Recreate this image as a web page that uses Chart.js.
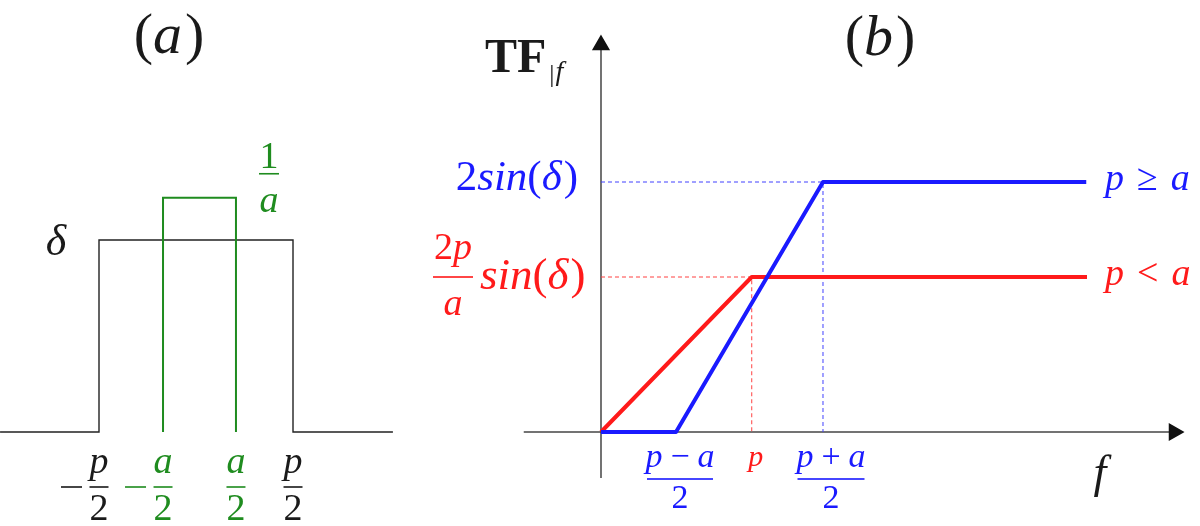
<!DOCTYPE html>
<html>
<head>
<meta charset="utf-8">
<script src="https://cdn.jsdelivr.net/npm/chart.js@4.4.1/dist/chart.umd.min.js"></script>
<style>
  body { margin: 0; background: #fff; width: 1200px; height: 526px; position: relative; overflow: hidden; }
  canvas { position: absolute; top: 0; }
  #chartA { left: 0; }
  #chartB { left: 400px; }
</style>
</head>
<body>
<canvas id="chartA" width="400" height="526"></canvas>
<canvas id="chartB" width="800" height="526"></canvas>
<script>
// ---- panel (a): slot (black) and pupil (green) rectangles
var slotX  = [-1.01, -0.5, -0.5, 0.5, 0.5, 1.015];
var slotY  = [0, 0, 1, 1, 0, 0];
var pupilX = [-0.17, -0.17, 0.206, 0.206];
var pupilY = [0, 1.22, 1.22, 0];

// ---- panel (b): transfer function vs f
var fBlue  = [0, 1, 2.96, 6.47];
var tfBlue = [0, 0, 1, 1];
var fRed   = [0, 2.01, 6.48];
var tfRed  = [0, 0.62, 0.62];
var axisF  = [-1.03, 7.64];
var axisTF = [-0.184, 1.548];

var BLACK = '#1a1a1a', GREEN = '#1f8c1f', BLUE = '#1a1aff', RED = '#ff1a1a';
var SERIF = '"Liberation Serif", "DejaVu Serif", serif';

function pts(xs, ys) { return xs.map(function (x, i) { return {x: x, y: ys[i]}; }); }

function setFont(ctx, r, size) {
  ctx.font = (r.i ? 'italic ' : '') + (r.b ? 'bold ' : '') + (r.s || size) + 'px ' + SERIF;
}
function runsWidth(ctx, runs, size) {
  var w = 0;
  runs.forEach(function (r) { setFont(ctx, r, size); w += ctx.measureText(r.t).width + (r.g || 0); });
  return w;
}
function drawRuns(ctx, runs, x, y, size, color, align) {
  var w = runsWidth(ctx, runs, size);
  var cx = align === 'right' ? x - w : (align === 'center' ? x - w / 2 : x);
  ctx.fillStyle = color; ctx.textAlign = 'left'; ctx.textBaseline = 'alphabetic';
  runs.forEach(function (r) {
    setFont(ctx, r, size);
    ctx.fillText(r.t, cx, y + (r.dy || 0));
    cx += ctx.measureText(r.t).width + (r.g || 0);
  });
}
function drawFrac(ctx, num, den, cx, barY, size, color, barW, up, down) {
  ctx.fillStyle = color;
  ctx.fillRect(cx - barW / 2, barY - 0.8, barW, 1.6);
  drawRuns(ctx, num, cx, barY - up, size, color, 'center');
  drawRuns(ctx, den, cx, barY + down, size, color, 'center');
}
function I(t, g) { return {t: t, i: true, g: g || 0}; }
function R(t, g) { return {t: t, g: g || 0}; }

var baseOpts = {
  responsive: false,
  animation: false,
  events: [],
  layout: { padding: 0, autoPadding: false },
  plugins: { legend: { display: false }, tooltip: { enabled: false } },
  elements: { point: { radius: 0 }, line: { tension: 0 } }
};

// labels for panel (a)
var textA = {
  id: 'textA',
  afterDraw: function (chart) {
    var ctx = chart.ctx, xs = chart.scales.x, ys = chart.scales.y;
    ctx.save();
    drawRuns(ctx, [R('('), I('a', 3), R(')')], 169, 53, 58, BLACK, 'center');
    drawRuns(ctx, [I('δ')], 56, ys.getPixelForValue(slotY[2]) + 15, 44, BLACK, 'center');
    drawFrac(ctx, [R('1')], [I('a')], 269, ys.getPixelForValue(pupilY[1]) - 24, 38, GREEN, 20, 6, 38);
    var ticks = [
      {v: slotX[1], n: 'p', c: BLACK, neg: true},
      {v: pupilX[0], n: 'a', c: GREEN, neg: true},
      {v: pupilX[2], n: 'a', c: GREEN},
      {v: slotX[3], n: 'p', c: BLACK}
    ];
    var barY = 487;
    ticks.forEach(function (t) {
      var cx = xs.getPixelForValue(t.v);
      drawFrac(ctx, [I(t.n)], [R('2')], cx, barY, 38, t.c, 19, 14, 33);
      if (t.neg) { ctx.fillStyle = t.c; ctx.fillRect(cx - 38, barY - 0.8, 21, 1.6); }
    });
    ctx.restore();
  }
};

new Chart(document.getElementById('chartA'), {
  type: 'scatter',
  data: {
    datasets: [
      { data: pts(pupilX, pupilY), showLine: true, borderColor: GREEN, borderWidth: 2 },
      { data: pts(slotX, slotY), showLine: true, borderColor: '#222', borderWidth: 1.4 }
    ]
  },
  options: Object.assign({}, baseOpts, {
    scales: {
      x: { type: 'linear', display: false, min: -1.0103, max: 1.0515 },
      y: { type: 'linear', display: false, min: -0.4896, max: 2.25 }
    }
  }),
  plugins: [textA]
});

// labels for panel (b)
var textB = {
  id: 'textB',
  afterDraw: function (chart) {
    var ctx = chart.ctx, xs = chart.scales.x, ys = chart.scales.y;
    ctx.save();
    drawRuns(ctx, [{t: 'TF', b: true, g: 3}, {t: '|', s: 26, dy: 10, g: 1}, {t: 'f', i: true, s: 28, dy: 8}],
      85, 72, 48, BLACK, 'left');
    drawRuns(ctx, [R('('), I('b', 3), R(')')], 480, 55, 58, BLACK, 'center');

    var yB = ys.getPixelForValue(tfBlue[2]), yR = ys.getPixelForValue(tfRed[1]);
    drawRuns(ctx, [R('2'), I('sin'), R('('), I('δ', 2), R(')')], 178, yB + 8, 43, BLUE, 'right');
    drawFrac(ctx, [R('2'), I('p')], [I('a')], 53, yR, 38, RED, 40, 18, 38);
    drawRuns(ctx, [I('sin'), R('('), I('δ', 2), R(')')], 80, yR + 12, 45, RED, 'left');

    drawRuns(ctx, [I('p', 13), R('≥', 13), I('a')], 705, yB + 8, 38, BLUE, 'left');
    drawRuns(ctx, [I('p', 13), R('<', 13), I('a')], 705, yR + 8, 38, RED, 'left');
    drawRuns(ctx, [I('f')], 700, 487, 46, BLACK, 'center');

    var barY = 479;
    drawFrac(ctx, [I('p', 8), R('−', 8), I('a')], [R('2')], xs.getPixelForValue(fBlue[1]) + 4, barY, 34, BLUE, 66, 12, 29);
    drawRuns(ctx, [I('p')], xs.getPixelForValue(fRed[1]) + 4, 466, 30, RED, 'center');
    drawFrac(ctx, [I('p', 8), R('+', 8), I('a')], [R('2')], xs.getPixelForValue(fBlue[2]) + 8, barY, 34, BLUE, 67, 12, 29);
    ctx.restore();
  }
};

new Chart(document.getElementById('chartB'), {
  type: 'scatter',
  data: {
    datasets: [
      { data: pts(fBlue, tfBlue), showLine: true, borderColor: BLUE, borderWidth: 4, borderJoinStyle: 'round' },
      { data: pts(fRed, tfRed), showLine: true, borderColor: RED, borderWidth: 4, borderJoinStyle: 'round' },
      { data: pts([0, fBlue[2], fBlue[2]], [tfBlue[2], tfBlue[2], 0]), showLine: true,
        borderColor: '#4040ff', borderWidth: 1, borderDash: [4, 3] },
      { data: pts([0, fRed[1], fRed[1]], [tfRed[1], tfRed[1], 0]), showLine: true,
        borderColor: '#ff4040', borderWidth: 1, borderDash: [4, 3] },
      { data: pts(axisF, [0, 0]), showLine: true, borderColor: '#444', borderWidth: 1.5,
        pointStyle: 'triangle', pointRadius: [0, 9], pointRotation: 90,
        pointBackgroundColor: '#111', pointBorderColor: '#111' },
      { data: pts([0, 0], axisTF), showLine: true, borderColor: '#444', borderWidth: 1.5,
        pointStyle: 'triangle', pointRadius: [0, 9], pointRotation: 0,
        pointBackgroundColor: '#111', pointBorderColor: '#111' }
    ]
  },
  options: Object.assign({}, baseOpts, {
    scales: {
      x: { type: 'linear', display: false, min: -2.68, max: 7.9867 },
      y: { type: 'linear', display: false, min: -0.376, max: 1.728 }
    }
  }),
  plugins: [textB]
});
</script>
</body>
</html>
